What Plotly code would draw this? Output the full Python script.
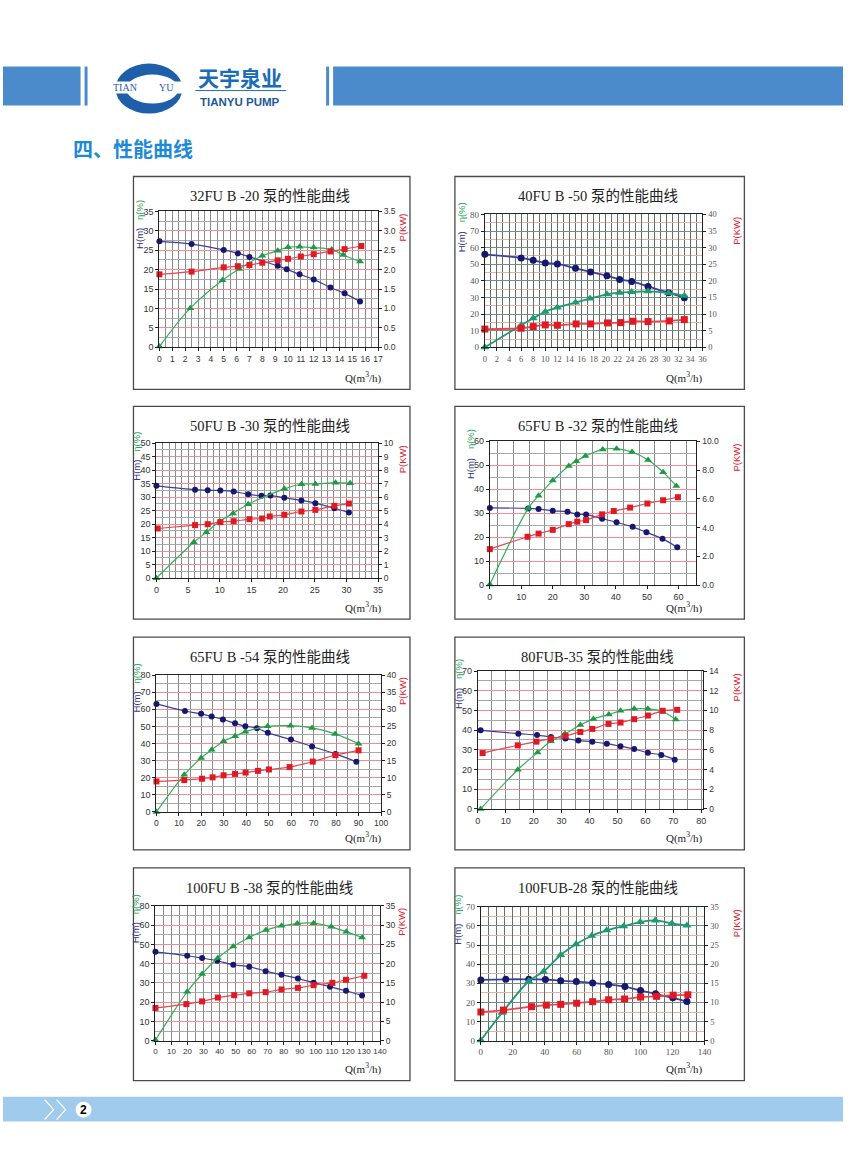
import plotly.graph_objects as go

# ---------------- data ----------------
c1_h_q = [0, 2.5, 5.0, 6.1, 7.0, 9.2, 9.9, 10.9, 12.0, 13.3, 14.4, 15.6]
c1_h = [27.3, 26.6, 25.1, 24.2, 23.3, 21.0, 20.1, 18.8, 17.5, 15.4, 13.9, 11.8]
c1_eta_q = [0, 2.4, 4.9, 6.2, 8.0, 9.2, 10.0, 10.9, 12.0, 13.4, 14.3, 15.6]
c1_eta = [0.2, 10.1, 17.3, 20.2, 23.6, 24.9, 25.8, 25.9, 25.7, 25.2, 23.8, 22.1]
c1_p_q = [0, 2.5, 5.0, 6.1, 7.0, 8.0, 9.2, 10.0, 11.0, 12.0, 13.3, 14.4, 15.7]
c1_p = [1.88, 1.95, 2.06, 2.09, 2.12, 2.18, 2.24, 2.28, 2.34, 2.40, 2.47, 2.53, 2.61]

c2_h_q = [0, 6, 8, 10, 12, 15, 17.5, 20.2, 22.3, 24.3, 27, 30.4, 33]
c2_h = [56.0, 53.8, 52.4, 50.8, 50.2, 47.6, 45.4, 43.1, 40.9, 39.7, 36.7, 32.9, 29.8]
c2_eta_q = [0, 6, 8, 10, 12, 15, 17.4, 20.2, 22.3, 24.3, 27, 30.4, 33]
c2_eta = [0, 13.3, 17.5, 21.4, 24.0, 27.0, 29.4, 31.9, 32.9, 33.3, 33.7, 32.7, 31.0]
c2_p_q = [0, 6, 8, 10, 12, 15.1, 17.5, 20.3, 22.5, 24.5, 27, 30.5, 33]
c2_p = [5.5, 5.75, 6.25, 6.75, 6.65, 7.05, 7.05, 7.35, 7.45, 7.85, 7.75, 7.95, 8.35]

c3_h_q = [0, 6.1, 8.1, 10.1, 12.2, 14.5, 16.6, 18.0, 20.2, 22.9, 25.1, 28.1, 30.4]
c3_h = [34.2, 32.8, 32.6, 32.5, 32.1, 31.1, 30.5, 30.6, 29.8, 28.8, 27.8, 25.9, 24.3]
c3_eta_q = [0, 5.9, 7.9, 10.0, 12.1, 14.5, 20.2, 22.9, 25.1, 28.3, 30.6]
c3_eta = [0, 13.3, 17.0, 21.1, 24.0, 27.4, 33.1, 34.8, 34.9, 35.4, 35.2]
c3_p_q = [0.2, 6.1, 8.1, 10.1, 12.2, 14.7, 16.7, 17.9, 20.2, 22.9, 25.1, 28.1, 30.4]
c3_p = [3.68, 3.93, 4.0, 4.15, 4.22, 4.37, 4.42, 4.57, 4.69, 4.94, 5.06, 5.36, 5.53]

c4_h_q = [0, 12.2, 15.5, 20.0, 24.7, 27.8, 30.6, 35.7, 40.3, 45.4, 49.8, 54.9, 59.6]
c4_h = [32.2, 32.0, 31.7, 31.0, 30.6, 29.5, 29.4, 27.7, 26.2, 24.3, 22.0, 19.3, 15.8]
c4_eta_q = [0, 12.2, 15.5, 20.0, 25.1, 27.5, 30.4, 35.9, 40.3, 45.2, 50.3, 55.1, 59.3]
c4_eta = [0.3, 32.0, 37.3, 43.6, 49.7, 51.7, 53.8, 56.6, 56.9, 55.5, 52.2, 47.1, 41.3]
c4_p_q = [0, 12.0, 15.5, 20.0, 25.1, 27.8, 30.6, 35.7, 39.4, 44.6, 50.1, 55.1, 59.8]
c4_p = [2.5, 3.36, 3.58, 3.84, 4.24, 4.41, 4.52, 4.92, 5.15, 5.39, 5.67, 5.90, 6.11]

c5_h_q = [0, 12.7, 19.9, 24.6, 29.6, 35.0, 39.6, 44.7, 49.6, 59.9, 69.3, 79.7, 89.0]
c5_h = [63.1, 59.0, 57.3, 55.7, 54.0, 51.8, 50.1, 48.9, 46.2, 42.3, 38.2, 33.9, 29.3]
c5_eta_q = [0, 12.4, 19.9, 24.6, 29.9, 35.0, 39.6, 49.5, 59.7, 69.3, 79.6, 90.0]
c5_eta = [0, 21.7, 31.5, 36.3, 41.3, 44.2, 46.9, 50.0, 50.4, 49.1, 45.6, 39.8]
c5_p_q = [0, 12.4, 20.3, 25.0, 29.9, 35.0, 39.7, 45.2, 50.1, 59.3, 69.6, 79.7, 90.0]
c5_p = [8.9, 9.3, 9.7, 10.1, 10.7, 11.1, 11.5, 12.0, 12.4, 13.1, 14.7, 16.6, 18.0]

c6_h_q = [1.0, 14.5, 21.2, 26.2, 31.4, 36.0, 41.0, 46.2, 51.1, 56.0, 60.9, 65.7, 70.5]
c6_h = [39.9, 38.2, 37.5, 36.5, 35.7, 34.7, 34.1, 33.1, 31.8, 30.4, 28.5, 27.4, 25.0]
c6_eta_q = [1.0, 14.3, 21.4, 26.1, 31.2, 36.7, 41.4, 46.9, 51.1, 56.0, 60.9, 65.9, 70.9]
c6_eta = [0, 19.9, 28.7, 34.3, 38.1, 42.6, 45.7, 47.9, 49.8, 50.8, 50.8, 49.6, 45.4]
c6_p_q = [1.7, 14.3, 21.0, 26.2, 31.4, 36.7, 41.0, 46.8, 51.1, 56.0, 60.9, 66.2, 71.4]
c6_p = [5.67, 6.46, 6.83, 7.14, 7.41, 7.81, 8.12, 8.63, 8.77, 9.11, 9.48, 9.96, 10.06]

c7_h_q = [0, 19.8, 29.1, 38.5, 48.5, 58.5, 68.7, 78.6, 88.8, 98.6, 108.8, 118.8, 128.8]
c7_h = [46.1, 44.1, 42.9, 41.5, 39.4, 38.4, 36.1, 34.2, 32.3, 30.1, 28.0, 25.9, 23.5]
c7_eta_q = [0, 19.8, 29.1, 38.9, 48.5, 58.5, 68.9, 78.6, 88.4, 98.6, 109.6, 119.0, 128.8]
c7_eta = [0.3, 25.4, 34.6, 42.9, 48.9, 53.6, 57.4, 59.6, 60.8, 61.0, 59.1, 56.5, 53.6]
c7_p_q = [0, 19.3, 29.1, 38.9, 49.1, 58.5, 68.7, 78.6, 88.8, 98.6, 110.3, 118.8, 130.2]
c7_p = [8.5, 9.5, 10.2, 11.2, 11.8, 12.3, 12.6, 13.3, 13.7, 14.4, 15.0, 15.8, 16.85]

c8_h_q = [0, 15.6, 30, 40.4, 50, 59.8, 70, 80, 90.2, 100, 109.4, 120.2, 129]
c8_h = [31.8, 32.1, 32.1, 32.0, 31.4, 30.9, 30.2, 29.4, 28.3, 26.2, 24.5, 22.4, 20.5]
c8_eta_q = [0, 13.3, 30, 39.2, 50, 59.6, 69.4, 78.8, 89.4, 99.8, 109.2, 119.6, 129]
c8_eta = [0.2, 14.6, 31.1, 36.1, 44.8, 50.4, 54.9, 57.7, 59.9, 62.0, 62.9, 61.3, 60.2]
c8_p_q = [0, 14.2, 31.7, 41, 50, 60, 70, 80, 90, 100, 110, 120.4, 129.6]
c8_p = [7.5, 8.0, 8.9, 9.3, 9.5, 9.8, 10.2, 10.7, 10.9, 11.4, 11.6, 11.9, 12.0]

titles = ["32FU B -20 泵的性能曲线", "40FU B -50 泵的性能曲线",
          "50FU B -30 泵的性能曲线", "65FU B -32 泵的性能曲线",
          "65FU B -54 泵的性能曲线", "80FUB-35 泵的性能曲线",
          "100FU B -38 泵的性能曲线", "100FUB-28 泵的性能曲线"]

c7_left_ticktext = ["0", "10", "20", "30", "40", "50", "60", "80"]

header_cn = "天宇泉业"
header_en = "TIANYU PUMP"
logo_text = ["TIAN", "YU"]
section_title = "四、性能曲线"
page_no = "2"

# ---------------- page geometry ----------------
W, H = 850, 1161
# small correction for the way the page is photographed (slight shrink + offset)
SX, OX = 0.990, 2.3
SY, OY = 0.9923, 4.35
def px(x): return ((x - OX) / SX) / W
def py(y): return 1 - ((y - OY) / SY) / H

L_BOX = (133, 410)
R_BOX = (455, 745)
ROWS = [(176, 389), (406, 619), (637, 850), (868, 1081)]

series = [
    (c1_h_q, c1_h, c1_eta_q, c1_eta, c1_p_q, c1_p),
    (c2_h_q, c2_h, c2_eta_q, c2_eta, c2_p_q, c2_p),
    (c3_h_q, c3_h, c3_eta_q, c3_eta, c3_p_q, c3_p),
    (c4_h_q, c4_h, c4_eta_q, c4_eta, c4_p_q, c4_p),
    (c5_h_q, c5_h, c5_eta_q, c5_eta, c5_p_q, c5_p),
    (c6_h_q, c6_h, c6_eta_q, c6_eta, c6_p_q, c6_p),
    (c7_h_q, c7_h, c7_eta_q, c7_eta, c7_p_q, c7_p),
    (c8_h_q, c8_h, c8_eta_q, c8_eta, c8_p_q, c8_p),
]

# per-chart axes config: plot area px (x0, y0, x1, y1)
cfg = [
    dict(plot=(159, 211, 378, 347), xr=[0, 17], xdt=1, xm=dict(dtick=0.5), xmaj=True,
         yr=[0, 35], ydt=5, ym=2.5, pr=[0, 3.5], pdt=0.5, pfmt=".1f", style="a", xfs=8.5),
    dict(plot=(485, 214, 703, 347), xr=[0, 36], xdt=2, xm=dict(dtick=1), xmaj=True,
         yr=[0, 80], ydt=10, ym=5, pr=[0, 40], pdt=5, pfmt="d", style="b", xfs=8.5),
    dict(plot=(156, 443, 378, 578), xr=[0, 35], xdt=5, xm=dict(dtick=1), xmaj=True,
         yr=[0, 50], ydt=5, ym=2.5, pr=[0, 10], pdt=1, pfmt="d", style="a", xfs=9),
    dict(plot=(490, 441, 697, 585), xr=[0, 65.7], xdt=10, xm=dict(tick0=2.5, dtick=5), xmaj=False,
         yr=[0, 60], ydt=10, ym=5, pr=[0, 10], pdt=2, pfmt=".1f", style="a", xfs=9),
    dict(plot=(156, 675, 381, 812), xr=[0, 100], xdt=10, xm=dict(dtick=5), xmaj=True,
         yr=[0, 80], ydt=10, ym=5, pr=[0, 40], pdt=5, pfmt="d", style="a", xfs=8.5),
    dict(plot=(478, 671, 704, 809), xr=[0, 80.8], xdt=10, xm=dict(dtick=5), xmaj=True,
         yr=[0, 70], ydt=10, ym=5, pr=[0, 14], pdt=2, pfmt="d", style="a", xfs=9),
    dict(plot=(155, 906, 380, 1041), xr=[0, 140], xdt=10, xm=dict(dtick=5), xmaj=True,
         yr=[0, 70], ydt=10, ym=5, pr=[0, 35], pdt=5, pfmt="d", style="a",
         yticktext=c7_left_ticktext, xfs=8),
    dict(plot=(481, 907, 705, 1041), xr=[0, 140], xdt=20, xm=dict(dtick=5), xmaj=True,
         yr=[0, 70], ydt=10, ym=5, pr=[0, 35], pdt=5, pfmt="d", style="b", xfs=9),
]

BLUE_L, BLUE_M = "#3b3f9c", "#15186e"
GREEN_L, GREEN_M = "#32b05a", "#1d9a45"
RED_L, RED_M = "#e8454f", "#e01a24"

SANS = "Liberation Sans, Arial, sans-serif"
SERIF = "Liberation Serif, serif"

fig = go.Figure()
layout = dict(width=W, height=H, margin=dict(l=0, r=0, t=0, b=0),
              paper_bgcolor="white", plot_bgcolor="white", showlegend=False)
shapes = []
annotations = []

for i, (c, s) in enumerate(zip(cfg, series)):
    n = i + 1
    xa = "xaxis" if n == 1 else f"xaxis{n}"
    xr_id = "x" if n == 1 else f"x{n}"
    yl_n, yr_n = 2 * n - 1, 2 * n
    yla = "yaxis" if yl_n == 1 else f"yaxis{yl_n}"
    yl_id = "y" if yl_n == 1 else f"y{yl_n}"
    yra = f"yaxis{yr_n}"
    yr_id = f"y{yr_n}"
    x0, y0, x1, y1 = c["plot"]
    b = c["style"] == "b"
    fam = SERIF if b else SANS
    tcol = "#555555" if b else "#333333"
    tf = dict(family=fam, size=9, color=tcol)
    rtf = dict(family=fam, size=8.5, color=tcol)
    xtf = dict(family=fam, size=c["xfs"], color=tcol)
    vgrid = "#5f7268" if b else "#8c8c8c"
    hmaj = "#7a8a80" if b else "#ee8e92"
    hmin = "#e8b0a0" if b else "#a8a8a8"

    layout[xa] = dict(domain=[px(x0), px(x1)], anchor=yl_id, range=c["xr"],
                      dtick=c["xdt"], tick0=0, showgrid=c["xmaj"], gridcolor=vgrid, gridwidth=1,
                      minor=dict(showgrid=True, gridcolor=vgrid, gridwidth=1, **c["xm"]),
                      showline=True, linecolor="#222", linewidth=1, mirror=True,
                      ticks="outside", ticklen=3, tickcolor="#222", tickfont=xtf,
                      tickangle=0, zeroline=False, fixedrange=True)
    ly = dict(domain=[py(y1), py(y0)], anchor=xr_id, range=c["yr"], dtick=c["ydt"], tick0=0,
              showgrid=True, gridcolor=hmaj, gridwidth=1,
              minor=dict(showgrid=True, gridcolor=hmin, gridwidth=1, dtick=c["ym"]),
              showline=True, linecolor="#222", linewidth=1, mirror=True,
              ticks="outside", ticklen=3, tickcolor="#222", tickfont=tf,
              zeroline=False, fixedrange=True)
    if "yticktext" in c:
        ly["tickmode"] = "array"
        ly["tickvals"] = list(range(0, 71, 10))
        ly["ticktext"] = c["yticktext"]
    layout[yla] = ly
    layout[yra] = dict(overlaying=yl_id, side="right", anchor=xr_id, range=c["pr"],
                       dtick=c["pdt"], tick0=0, showgrid=False, showline=True,
                       linecolor="#222", linewidth=1, ticks="outside", ticklen=3,
                       tickcolor="#222", tickfont=rtf, zeroline=False, fixedrange=True,
                       tickformat=c["pfmt"])

    hq, hv, eq, ev, pq, pv = s
    ms = 7 if b else 6
    lw = 1.8 if b else 1.2
    fig.add_trace(go.Scatter(x=hq, y=hv, xaxis=xr_id, yaxis=yl_id, mode="lines+markers",
                             line=dict(color=BLUE_L, width=lw, shape="spline", smoothing=1.0),
                             marker=dict(symbol="circle", size=ms, color=BLUE_M),
                             cliponaxis=False, name="H"))
    fig.add_trace(go.Scatter(x=eq, y=ev, xaxis=xr_id, yaxis=yl_id, mode="lines+markers",
                             line=dict(color=GREEN_L if not b else "#1c9a72", width=lw,
                                       shape="spline", smoothing=1.0),
                             marker=dict(symbol="triangle-up", size=ms + 1,
                                         color=GREEN_M if not b else "#1c9a72"),
                             cliponaxis=False, name="η"))
    fig.add_trace(go.Scatter(x=pq, y=pv, xaxis=xr_id, yaxis=yr_id, mode="lines+markers",
                             line=dict(color=RED_L, width=lw, shape="spline", smoothing=1.0),
                             marker=dict(symbol="square", size=ms, color=RED_M),
                             cliponaxis=False, name="P"))

    # chart frame
    bx0, bx1 = L_BOX if i % 2 == 0 else R_BOX
    by0, by1 = ROWS[i // 2]
    shapes.append(dict(type="rect", xref="paper", yref="paper", x0=px(bx0), x1=px(bx1),
                       y0=py(by1), y1=py(by0), line=dict(color="#4a4a4a", width=1.3),
                       layer="below"))
    cx = (bx0 + bx1) / 2 - 2
    annotations.append(dict(text=titles[i], x=px(cx), y=py(by0 + 20), xref="paper", yref="paper",
                            showarrow=False, xanchor="center", yanchor="middle",
                            font=dict(family="Liberation Serif, 'Noto Sans CJK SC', serif",
                                      size=14.5, color="#222222")))
    lx = x0 - (23 if b else 20)
    annotations.append(dict(text="η(%)", x=px(lx), y=py(y0 - 2), xref="paper", yref="paper",
                            showarrow=False, textangle=-90, xanchor="center", yanchor="middle",
                            font=dict(family=SANS, size=9.5, color="#23a55a")))
    annotations.append(dict(text="H(m)", x=px(lx), y=py(y0 + 27), xref="paper", yref="paper",
                            showarrow=False, textangle=-90, xanchor="center", yanchor="middle",
                            font=dict(family=SANS, size=9.5, color="#2b3590")))
    annotations.append(dict(text="P(KW)", x=px(bx1 - 8), y=py(y0 + 16), xref="paper", yref="paper",
                            showarrow=False, textangle=-90, xanchor="center", yanchor="middle",
                            font=dict(family=SANS, size=9.5, color="#e0202a")))
    annotations.append(dict(text="Q(m<sup>3</sup>/h)", x=px(bx0 + 230), y=py(by1 - 12),
                            xref="paper", yref="paper", showarrow=False,
                            xanchor="center", yanchor="middle",
                            font=dict(family=SERIF, size=11, color="#222222")))

# ---------------- header ----------------
HB = "#4b8bcb"
for (a, bb) in [(0, 80), (84, 87), (326, 329), (333, 850)]:
    shapes.append(dict(type="rect", xref="paper", yref="paper", x0=max(px(a), 0), x1=min(px(bb), 1),
                       y0=py(105), y1=py(66), line=dict(width=0), fillcolor=HB, layer="below"))
# logo
LOGO = "#1f5ea8"
shapes.append(dict(type="circle", xref="paper", yref="paper", x0=px(115), x1=px(182),
                   y0=py(113), y1=py(63), line=dict(width=0), fillcolor=LOGO, layer="above"))
shapes.append(dict(type="circle", xref="paper", yref="paper", x0=px(126), x1=px(178),
                   y0=py(103), y1=py(74), line=dict(width=0), fillcolor="white", layer="above"))
shapes.append(dict(type="rect", xref="paper", yref="paper", x0=px(112), x1=px(185),
                   y0=py(93), y1=py(81), line=dict(width=0), fillcolor="white", layer="above"))
annotations.append(dict(text=logo_text[0], x=px(125), y=py(87), xref="paper", yref="paper",
                        showarrow=False, xanchor="center", yanchor="middle",
                        font=dict(family=SERIF, size=10, color=LOGO)))
annotations.append(dict(text=logo_text[1], x=px(166), y=py(87), xref="paper", yref="paper",
                        showarrow=False, xanchor="center", yanchor="middle",
                        font=dict(family=SERIF, size=10, color=LOGO)))
annotations.append(dict(text="<b>" + header_cn + "</b>", x=px(240), y=py(76), xref="paper", yref="paper",
                        showarrow=False, xanchor="center", yanchor="middle",
                        font=dict(family="Noto Sans CJK SC", size=21, color="#1a6cb8")))
shapes.append(dict(type="line", xref="paper", yref="paper", x0=px(195), x1=px(286),
                   y0=py(90), y1=py(90), line=dict(color="#1a6cb8", width=1)))
annotations.append(dict(text="<b>" + header_en + "</b>", x=px(240), y=py(101), xref="paper", yref="paper",
                        showarrow=False, xanchor="center", yanchor="middle",
                        font=dict(family=SANS, size=11.5, color="#1a5a9c")))
annotations.append(dict(text="<b>" + section_title + "</b>", x=px(70), y=py(148), xref="paper", yref="paper",
                        showarrow=False, xanchor="left", yanchor="middle",
                        font=dict(family="Noto Sans CJK SC", size=20, color="#1c8ad6")))

# ---------------- footer ----------------
shapes.append(dict(type="rect", xref="paper", yref="paper", x0=0, x1=1,
                   y0=py(1122), y1=py(1097), line=dict(width=0), fillcolor="#a0cbed", layer="below"))
for xs in (44, 56):
    path = (f"M {px(xs)} {py(1100)} L {px(xs + 9)} {py(1110)} L {px(xs)} {py(1120)}")
    shapes.append(dict(type="path", xref="paper", yref="paper", path=path,
                       line=dict(color="white", width=1.2)))
shapes.append(dict(type="circle", xref="paper", yref="paper", x0=px(75), x1=px(91),
                   y0=py(1118), y1=py(1102), line=dict(width=0), fillcolor="white"))
annotations.append(dict(text="<b>" + page_no + "</b>", x=px(83), y=py(1110), xref="paper", yref="paper",
                        showarrow=False, xanchor="center", yanchor="middle",
                        font=dict(family=SANS, size=12, color="black")))

layout["shapes"] = shapes
layout["annotations"] = annotations
fig.update_layout(**layout)

post = ("document.documentElement.style.margin='0';document.documentElement.style.padding='0';"
        "document.documentElement.style.overflow='hidden';"
        "document.documentElement.style.height='1161px';"
        "document.body.style.margin='0';document.body.style.padding='0';"
        "document.body.style.overflow='hidden';document.body.style.height='1161px';"
        "var d=document.getElementById('{plot_id}');"
        "d.style.position='fixed';d.style.left='0px';d.style.top='0px';"
        "d.style.margin='0';")
fig.write_html("out.html", config={"displayModeBar": False}, post_script=post)
